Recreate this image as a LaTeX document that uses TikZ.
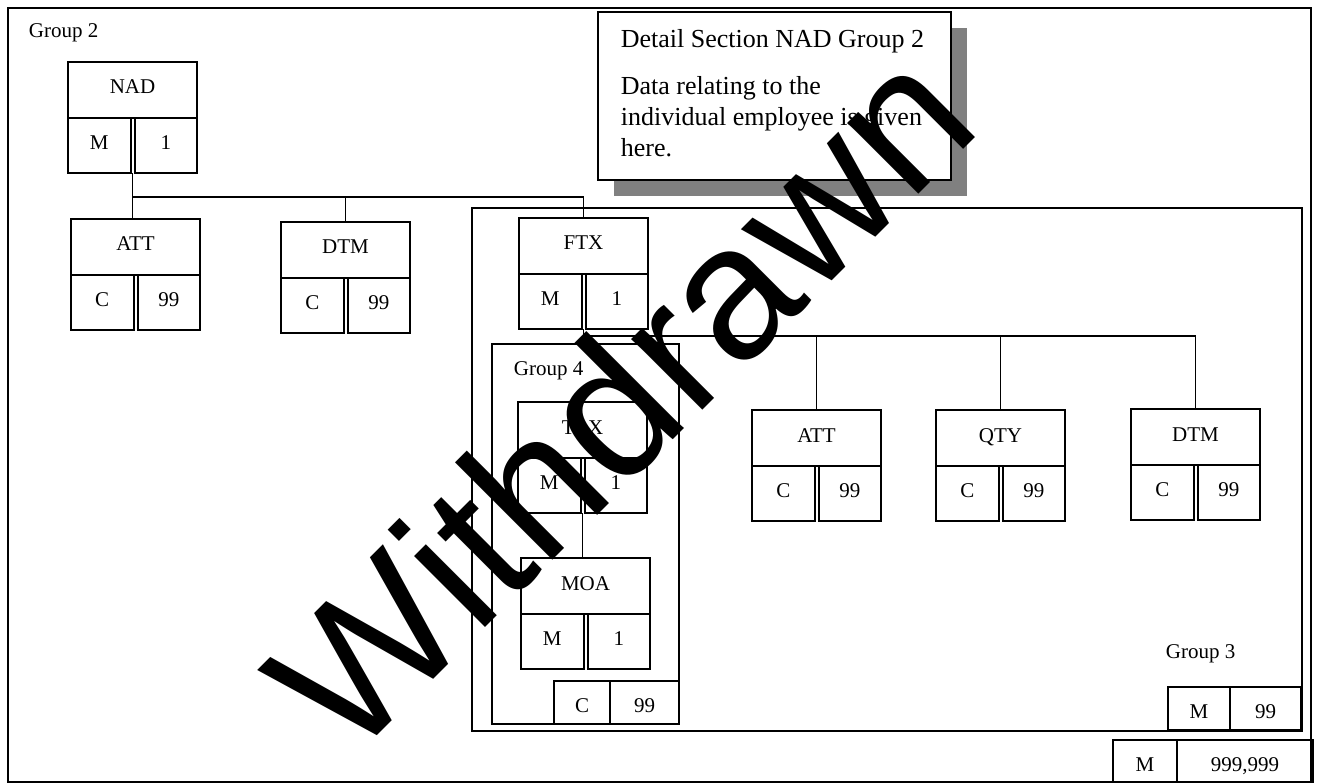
\documentclass[tikz,border=0pt]{standalone}
\usepackage{fontspec}
\setmainfont{Liberation Serif}
\newfontfamily\wmfont{Liberation Sans}
\begin{document}
\begin{tikzpicture}[x=1pt, y=-1pt, line width=1.7pt,
  seg/.style={draw, rectangle, line width=2pt, inner sep=0pt, outer sep=0pt, minimum width=129pt, minimum height=56pt,
    text height=14pt, text depth=6pt, font=\fontsize{21}{21}\selectfont},
  cell/.style={seg, minimum width=62.5pt, minimum height=55pt},
  occ/.style={seg, minimum height=43pt, text height=20pt, text depth=0pt, anchor=north west},
  frame/.style={line width=1.6pt},
  lbl/.style={anchor=base west, inner sep=0pt, font=\fontsize{21}{21}\selectfont},
  dettxt/.style={anchor=base west, inner sep=0pt, font=\fontsize{26}{30}\selectfont}]
  \useasboundingbox (0,0) rectangle (1319,783);
  % Rahmen der Gruppen 2, 3 und 4
  \draw[frame] (8,8) rectangle (1311,782);
  \draw[frame] (472,208) rectangle (1302,731);
  \draw[frame] (492,344) rectangle (679,724);
  % Hinweisfeld mit Schatten
  \fill[gray] (614,28) rectangle (967,196);
  \node[draw, fill=white, line width=2pt, inner sep=0pt, outer sep=0pt, minimum width=353pt, minimum height=168pt,
    anchor=north west] (detail) at (598,12) {};
  \foreach \yy/\txt in {48/Detail Section NAD Group 2, 95/Data relating to the,
    126/individual employee is given, 157/here.}{
    \node[dettxt] at (620,\yy) {\txt};
  }
  % Segmente: Name, Status, Wiederholung
  \foreach \n/\x/\y/\lab/\st/\rep in {nad/68/62/NAD/M/1, att1/71/219/ATT/C/99, dtm1/281/222/DTM/C/99,
    ftx/519/218/FTX/M/1, tax/518/402/TAX/M/1, moa/521/558/MOA/M/1,
    att2/752/410/ATT/C/99, qty/936/410/QTY/C/99, dtm2/1131/409/DTM/C/99}{
    \node[seg, anchor=north west] (\n) at (\x,\y) {\lab};
    \node[cell, anchor=north west] (\n-s) at (\n.south west) {\st};
    \node[cell, anchor=north east] (\n-r) at (\n.south east) {\rep};
  }
  % Verbindungen
  \coordinate (bus2) at (0,197);
  \coordinate (bus3) at (0,336);
  \draw (nad.south |- nad-s.south) |- (ftx.north |- bus2) -- (ftx.north);
  \draw (nad.south |- bus2) -- (nad.south |- att1.north);
  \draw (dtm1.north |- bus2) -- (dtm1.north);
  \draw (ftx.south |- ftx-s.south) |- (dtm2.north |- bus3) -- (dtm2.north);
  \foreach \n in {att2,qty}{
    \draw (\n.north |- bus3) -- (\n.north);
  }
  \draw (tax.south |- tax-s.south) -- (tax.south |- moa.north);
  % Wiederholungsfelder der Gruppen
  \node[occ, minimum width=56pt] (g4s) at (554,681) {C};
  \node[occ, minimum width=69pt] (g4r) at (g4s.north east) {99};
  \node[occ, minimum width=62pt] (g3s) at (1168,687) {M};
  \node[occ, minimum width=71pt] (g3r) at (g3s.north east) {99};
  \node[occ, minimum width=64pt] (g2s) at (1113,740) {M};
  \node[occ, minimum width=136pt] (g2r) at (g2s.north east) {999,999};
  % Gruppennamen
  \node[lbl] (g2lbl) at (28,38) {Group 2};
  \node[lbl] (g4lbl) at (513,375) {Group 4};
  \node[lbl] (g3lbl) at (1165,658) {Group 3};
  % Stempel
  \node[font=\wmfont\fontsize{190}{190}\selectfont, rotate=45, anchor=base, inner sep=0pt] (wm)
    at (667,446) {Withdrawn};
\end{tikzpicture}
\end{document}
